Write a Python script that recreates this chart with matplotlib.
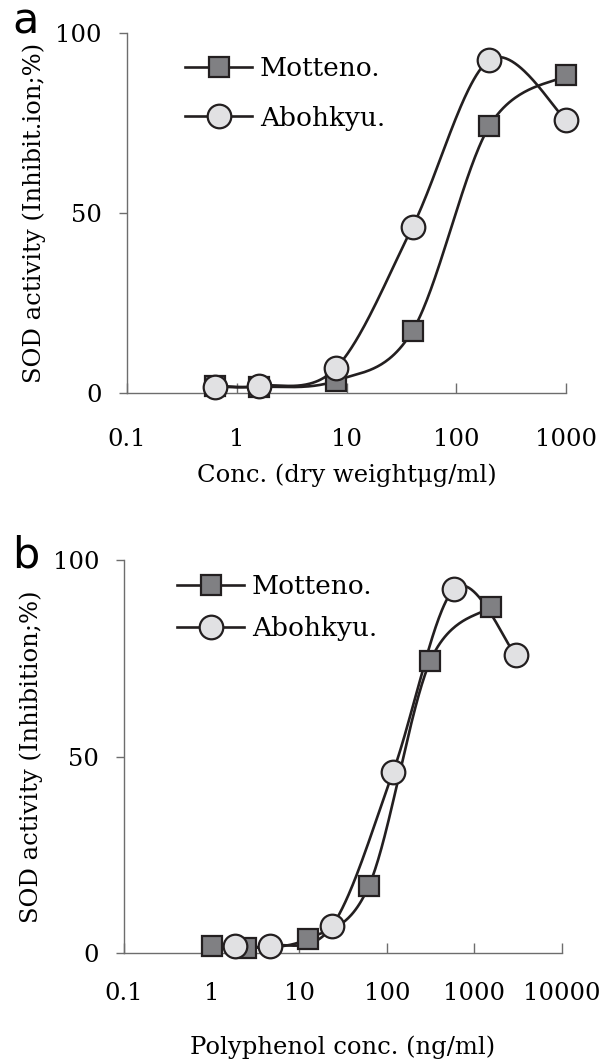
import numpy as np
import matplotlib
matplotlib.use("Agg")
import matplotlib.pyplot as plt

# ---- data ----
conc_dry = [0.64, 1.6, 8, 40, 200, 1000]
motteno_a = [2.0, 1.7, 3.4, 17.3, 74.1, 88.2]
abohkyu_a = [1.8, 2.0, 6.9, 46.2, 92.5, 75.9]

poly_motteno = [1.0, 2.5, 12.5, 62.5, 312, 1560]
poly_abohkyu = [1.85, 4.7, 23.6, 118, 590, 2950]
motteno_b = [1.9, 1.3, 3.6, 17.1, 74.2, 88.1]
abohkyu_b = [1.7, 1.9, 6.8, 46.1, 92.7, 75.8]

yticks = [0, 50, 100]
xticks_a = [0.1, 1, 10, 100, 1000]
xticks_b = [0.1, 1, 10, 100, 1000, 10000]
xticklabels_a = ["0.1", "1", "10", "100", "1000"]
xticklabels_b = ["0.1", "1", "10", "100", "1000", "10000"]

SERIF = "DejaVu Serif"
LINE_C = "#231f20"
SPINE_C = "#6d6d6d"


def smooth(xs, ys, n=60):
    lx = np.log10(np.asarray(xs, float))
    y = np.asarray(ys, float)
    P = np.column_stack([lx, y])
    m = len(P)
    out = []
    for i in range(m - 1):
        p0 = P[i - 1] if i > 0 else P[i]
        p1 = P[i]
        p2 = P[i + 1]
        p3 = P[i + 2] if i + 2 < m else P[i + 1]
        c1 = p1 + (p2 - p0) / 6.0
        c2 = p2 - (p3 - p1) / 6.0
        t = np.linspace(0, 1, n)[:, None]
        seg = ((1 - t) ** 3) * p1 + 3 * ((1 - t) ** 2) * t * c1 + 3 * (1 - t) * t ** 2 * c2 + t ** 3 * p2
        out.append(seg if i == 0 else seg[1:])
    C = np.vstack(out)
    return 10 ** C[:, 0], C[:, 1]


fig = plt.figure(figsize=(6.09, 10.62), dpi=100)

ax_a = fig.add_axes([127 / 609, 1 - 393 / 1062, 439 / 609, 360 / 1062])
ax_b = fig.add_axes([124 / 609, 1 - 953 / 1062, 438 / 609, 393 / 1062])

panels = [
    (ax_a, conc_dry, motteno_a, conc_dry, abohkyu_a, (0.1, 1000), xticks_a, xticklabels_a,
     "Conc. (dry weight\u03bcg/ml)", "SOD activity (Inhibit.ion;%)", (0.132, 0.935), 0.92, 25, 9),
    (ax_b, poly_motteno, motteno_b, poly_abohkyu, abohkyu_b, (0.1, 10000), xticks_b, xticklabels_b,
     "Polyphenol conc. (ng/ml)", "SOD activity (Inhibition;%)", (0.121, 0.965), 0.66, 21, 22),
]

for (ax, xm, ym, xa, ya, xlim, xt, xtl, xlabel, ylabel, legpos, lsp, xtpad, xlpad) in panels:
    ax.set_xscale("log")
    ax.set_xlim(*xlim)
    ax.set_ylim(0, 100)
    sx, sy = smooth(xm, ym)
    ax.plot(sx, sy, color=LINE_C, lw=1.9, zorder=2, solid_capstyle="round")
    sx, sy = smooth(xa, ya)
    ax.plot(sx, sy, color=LINE_C, lw=1.9, zorder=2, solid_capstyle="round")
    ax.plot(xm, ym, linestyle="none", marker="s", ms=15, mfc="#808083", mec=LINE_C, mew=1.6, zorder=3, clip_on=False)
    ax.plot(xa, ya, linestyle="none", marker="o", ms=17, mfc="#e1e1e3", mec=LINE_C, mew=1.6, zorder=4, clip_on=False)

    # legend proxies
    hm, = ax.plot([], [], color=LINE_C, lw=1.9, marker="s", ms=15, mfc="#808083", mec=LINE_C, mew=1.6)
    ha, = ax.plot([], [], color=LINE_C, lw=1.9, marker="o", ms=17, mfc="#e1e1e3", mec=LINE_C, mew=1.6)
    ax.legend([hm, ha], ["Motteno.", "Abohkyu."], loc="upper left", bbox_to_anchor=legpos,
              frameon=False, prop={"family": SERIF, "size": 19}, handlelength=2.55,
              handletextpad=0.28, labelspacing=lsp, borderpad=0, borderaxespad=0)

    for s in ["top", "right"]:
        ax.spines[s].set_visible(False)
    for s in ["left", "bottom"]:
        ax.spines[s].set_color(SPINE_C)
        ax.spines[s].set_linewidth(1.0)

    ax.set_yticks(yticks)
    ax.set_yticklabels([str(v) for v in yticks], family=SERIF, fontsize=17.5)
    ax.set_xticks(xt)
    ax.set_xticklabels(xtl, family=SERIF, fontsize=17.5)
    ax.minorticks_off()
    ax.tick_params(axis="y", direction="out", length=6, width=1.0, color=SPINE_C, pad=12)
    ax.tick_params(axis="x", direction="in", length=7, width=1.0, color=SPINE_C, pad=xtpad)
    ax.set_xlabel(xlabel, family=SERIF, fontsize=17.5, labelpad=xlpad)
    ax.set_ylabel(ylabel, family=SERIF, fontsize=17.5, labelpad=7)

fig.text(12 / 609, 1 - 34 / 1062, "a", family="DejaVu Sans", fontsize=31, va="baseline", ha="left")
fig.text(12 / 609, 1 - 567 / 1062, "b", family="DejaVu Sans", fontsize=31, va="baseline", ha="left")

fig.savefig("out.png", dpi=100)
